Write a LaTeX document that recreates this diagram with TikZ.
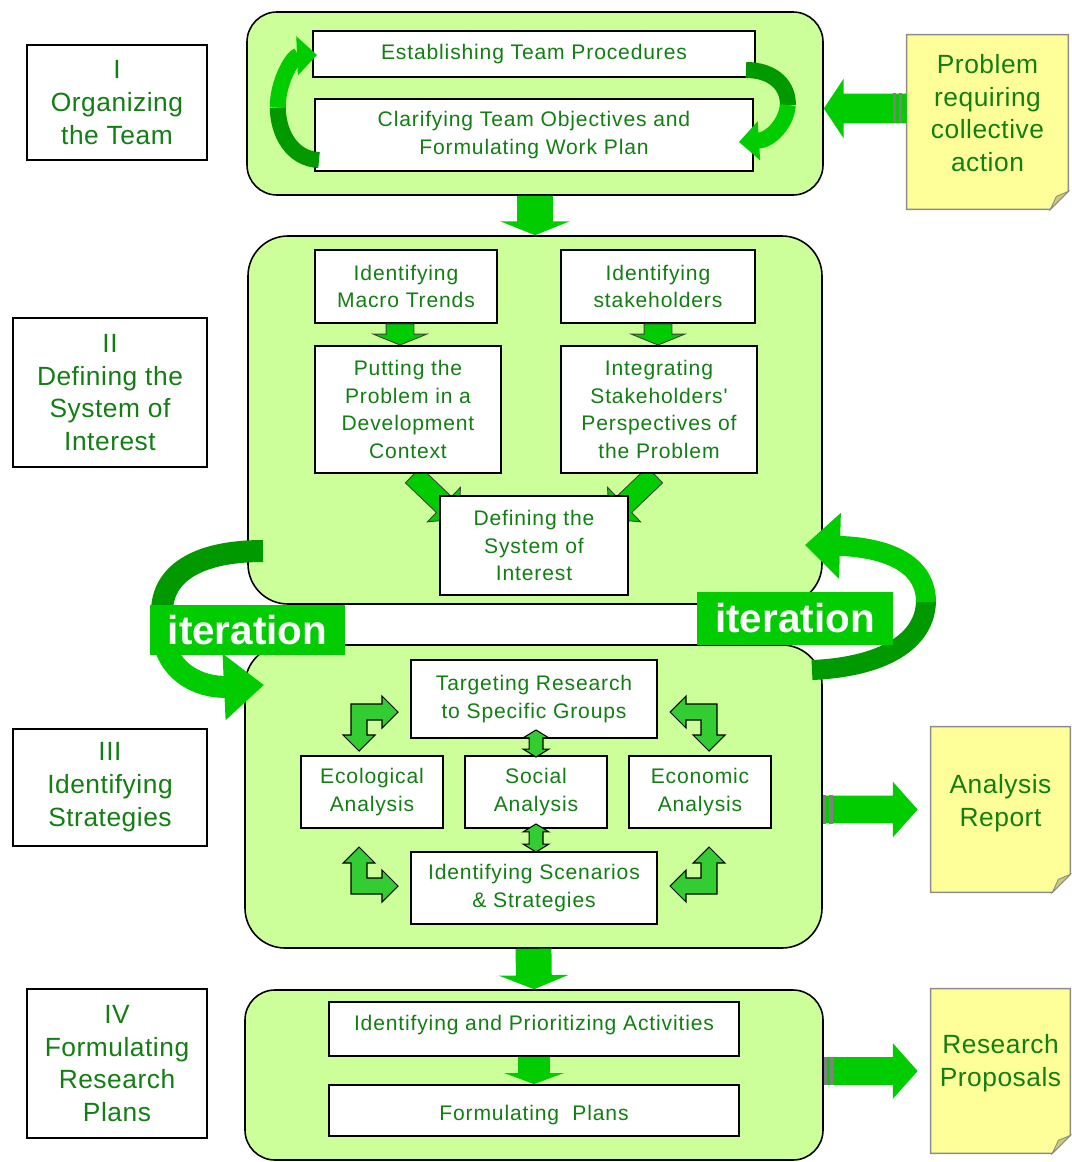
\documentclass[tikz,border=0pt]{standalone}
\usepackage{fontspec}
\newfontfamily\bxf[LetterSpace=4]{Liberation Sans}
\newfontfamily\lbf[LetterSpace=2]{Liberation Sans}
\newfontfamily\itf{Liberation Sans}
\usetikzlibrary{calc,fit,arrows.meta}
\pgfdeclarelayer{back}
\pgfdeclarelayer{mid}
\pgfsetlayers{back,mid,main}
\definecolor{pfill}{HTML}{CCFF99}
\definecolor{agreen}{HTML}{00CC00}
\definecolor{dgreen}{HTML}{009900}
\definecolor{cgreen}{HTML}{33CC33}
\definecolor{tgreen}{HTML}{127F12}
\definecolor{nfill}{HTML}{FFFF99}
\definecolor{nfold}{HTML}{CCCC77}
\definecolor{nline}{HTML}{8C8C8C}

\newcommand\blockarrow[6]{%
  \pgfmathsetlengthmacro\baW{#4*0.5669pt}%
  \pgfmathsetlengthmacro\baH{#5*0.5669pt}%
  \pgfmathsetlengthmacro\baL{#6*0.5669pt}%
  \coordinate (baS) at (#2);
  \coordinate (baE) at (#3);
  \coordinate (baB) at ($(baE)!\baL!(baS)$);
  \path[#1] ($(baS)!\baW!90:(baE)$) -- ($(baB)!\baW!90:(baE)$) -- ($(baB)!\baH!90:(baE)$) -- (baE)
    -- ($(baB)!\baH!-90:(baE)$) -- ($(baB)!\baW!-90:(baE)$) -- ($(baS)!\baW!-90:(baE)$) -- cycle;
}
\newcommand\dblarrow[6]{%
  \pgfmathsetlengthmacro\baW{#4*0.5669pt}%
  \pgfmathsetlengthmacro\baH{#5*0.5669pt}%
  \pgfmathsetlengthmacro\baL{#6*0.5669pt}%
  \coordinate (daS) at (#2);
  \coordinate (daE) at (#3);
  \coordinate (daB) at ($(daE)!\baL!(daS)$);
  \coordinate (daA) at ($(daS)!\baL!(daE)$);
  \path[#1] (daS) -- ($(daA)!\baH!90:(daE)$) -- ($(daA)!\baW!90:(daE)$) -- ($(daB)!\baW!90:(daE)$)
    -- ($(daB)!\baH!90:(daE)$) -- (daE) -- ($(daB)!\baH!-90:(daE)$) -- ($(daB)!\baW!-90:(daE)$)
    -- ($(daA)!\baW!-90:(daE)$) -- ($(daA)!\baH!-90:(daE)$) -- cycle;
}
\newcommand\larrow[1]{%
  \begin{scope}[#1]
    \filldraw[larr] (-8,-8) -- (23,-8) -- (23,-16) -- (39,0) -- (23,16) -- (23,8) -- (8,8)
      -- (8,23) -- (16,23) -- (0,39) -- (-16,23) -- (-8,23) -- cycle;
  \end{scope}}

\tikzset{
  panel/.style={draw=black, fill=pfill, line width=0.9pt, rounded corners=#1, inner sep=0pt},
  panel/.default=0.6cm,
  wbox/.style={draw=black, fill=white, line width=1.1pt, inner sep=0pt},
  btext/.style={inner sep=0pt, align=center, text=tgreen, font=\bxf\fontsize{12}{15.6}\selectfont},
  ltext/.style={inner sep=0pt, align=center, text=tgreen, font=\lbf\fontsize{15}{18.7}\selectfont},
  noteframe/.style={inner sep=0pt},
  notefill/.style={fill=nfill, draw=nline, line width=0.8pt},
  foldfill/.style={fill=nfold, draw=nline, line width=0.5pt},
  notetext/.style={inner sep=0pt, align=center, text=tgreen, font=\lbf\fontsize{15}{18.6}\selectfont},
  bigarr/.style={fill=agreen},
  smallarr/.style={fill=agreen, draw=black!75, line width=0.5pt},
  larr/.style={fill=cgreen, draw=black, line width=0.6pt},
  stripe/.style={fill=gray},
  iterbox/.style={fill=agreen, inner sep=0pt, text=white, font=\itf\bfseries\fontsize{23}{26}\selectfont},
  curvdark/.style={draw=dgreen, line width=#1},
  curvbright/.style={draw=agreen, line width=#1},
}

\begin{document}
\begin{tikzpicture}[x=0.02cm,y=-0.02cm]
\useasboundingbox (0,0) rectangle (1071,1162);

% ---------- panels ----------
\begin{pgfonlayer}{back}
\node[panel, fit={(247,12) (823,195)}] (p1) {};
\node[panel=0.8cm, fit={(248,236) (822,604)}] (p2) {};
\node[panel=0.8cm, fit={(245,645) (822,948)}] (p3) {};
\node[panel, fit={(245,990) (823,1160)}] (p4) {};
\end{pgfonlayer}

% ---------- left labels ----------
\node[wbox, fit={(27,45) (207,160)}] (l1) {};
\node[ltext] (l1t) at (l1.center) {I\\Organizing\\the Team};
\node[wbox, fit={(13,318) (207,467)}] (l2) {};
\node[ltext] (l2t) at (l2.center) {II\\Defining the\\System of\\Interest};
\node[wbox, fit={(13,729) (207,846)}] (l3) {};
\node[ltext] (l3t) at (l3.center) {III\\Identifying\\Strategies};
\node[wbox, fit={(27,989) (207,1138)}] (l4) {};
\node[ltext] (l4t) at (l4.center) {IV\\Formulating\\Research\\Plans};

% ---------- boxes ----------
\node[wbox, fit={(313,31) (755,77)}] (e1) {};
\node[btext] (e1t) at (e1.center) {Establishing Team Procedures};
\node[wbox, fit={(315,99) (753,171)}] (c1) {};
\node[btext] (c1t) at (c1.center) {Clarifying Team Objectives and\\Formulating Work Plan};

\node[wbox, fit={(315,250) (497,323)}] (m1) {};
\node[btext] (m1t) at (m1.center) {Identifying\\Macro Trends};
\node[wbox, fit={(561,250) (755,323)}] (s1) {};
\node[btext] (s1t) at (s1.center) {Identifying\\stakeholders};
\node[wbox, fit={(315,346) (501,473)}] (pp) {};
\node[btext] (ppt) at (pp.center) {Putting the\\Problem in a\\Development\\Context};
\node[wbox, fit={(561,346) (757,473)}] (ip) {};
\node[btext] (ipt) at (ip.center) {Integrating\\Stakeholders'\\Perspectives of\\the Problem};
\node[wbox, fit={(440,496) (628,595)}] (ds) {};
\node[btext] (dst) at (ds.center) {Defining the\\System of\\Interest};

\node[wbox, fit={(411,660) (657,738)}] (tr) {};
\node[btext] (trt) at (tr.center) {Targeting Research\\to Specific Groups};
\node[wbox, fit={(301,756) (443,828)}] (ea) {};
\node[btext] (eat) at (ea.center) {Ecological\\Analysis};
\node[wbox, fit={(465,756) (607,828)}] (sa) {};
\node[btext] (sat) at (sa.center) {Social\\Analysis};
\node[wbox, fit={(629,756) (771,828)}] (ec) {};
\node[btext] (ect) at (ec.center) {Economic\\Analysis};
\node[wbox, fit={(411,852) (657,924)}] (is) {};
\node[btext] (ist) at (is.center) {Identifying Scenarios\\\& Strategies};

\node[wbox, fit={(329,1002) (739,1056)}] (ia) {};
\node[btext] (iat) at ($(ia.center)+(0,-4)$) {Identifying and Prioritizing Activities};
\node[wbox, fit={(329,1085) (739,1136)}] (fp) {};
\node[btext] (fpt) at ($(fp.center)+(0,5)$) {Formulating~ Plans};

% ---------- notes ----------
\node[noteframe, fit={(907,35) (1068,209)}] (n1) {};
\filldraw[notefill] (n1.north west) -- (n1.north east) -- ($(n1.south east)+(0,-18)$) -- ($(n1.south east)+(-18,0)$) -- (n1.south west) -- cycle;
\filldraw[foldfill] ($(n1.south east)+(0,-18)$) -- ($(n1.south east)+(-18,0)$) -- ($(n1.south east)+(-12,-13)$) -- cycle;
\node[notetext] (n1t) at ($(n1.center)+(0,-9)$) {Problem\\requiring\\collective\\action};

\node[noteframe, fit={(931,727) (1070,892)}] (n2) {};
\filldraw[notefill] (n2.north west) -- (n2.north east) -- ($(n2.south east)+(0,-18)$) -- ($(n2.south east)+(-18,0)$) -- (n2.south west) -- cycle;
\filldraw[foldfill] ($(n2.south east)+(0,-18)$) -- ($(n2.south east)+(-18,0)$) -- ($(n2.south east)+(-12,-13)$) -- cycle;
\node[notetext] (n2t) at ($(n2.center)+(0,-6)$) {Analysis\\Report};

\node[noteframe, fit={(931,989) (1070,1153)}] (n3) {};
\filldraw[notefill] (n3.north west) -- (n3.north east) -- ($(n3.south east)+(0,-18)$) -- ($(n3.south east)+(-18,0)$) -- (n3.south west) -- cycle;
\filldraw[foldfill] ($(n3.south east)+(0,-18)$) -- ($(n3.south east)+(-18,0)$) -- ($(n3.south east)+(-12,-13)$) -- cycle;
\node[notetext] (n3t) at ($(n3.center)+(0,-8)$) {Research\\Proposals};

% ---------- big block arrows ----------
\blockarrow{bigarr}{$(n1.west |- p1.east)+(0,5)$}{$(p1.east)+(0,5)$}{15}{30}{20}
\fill[stripe] (893,93) rectangle (896,123);
\fill[stripe] (899,93) rectangle (902,123);

\blockarrow{bigarr}{p1.south}{p2.north}{18}{35}{14}
\blockarrow{bigarr}{p3.south}{p4.north}{18}{35}{14}
\blockarrow{bigarr}{ia.south}{fp.north}{16}{30}{11}

\blockarrow{bigarr}{p3.east |- n2.west}{$(n2.west)+(-13,0)$}{14}{28}{25}
\fill[stripe] (823,795) rectangle (826,824);
\fill[stripe] (829,795) rectangle (833,824);
\blockarrow{bigarr}{p4.east |- n3.west}{$(n3.west)+(-13,0)$}{14}{28}{25}
\fill[stripe] (824,1057) rectangle (827,1085);
\fill[stripe] (830,1057) rectangle (834,1085);

% ---------- panel 2 arrows ----------
\blockarrow{smallarr}{$(m1.south)+(-6,0)$}{$(m1.south |- pp.north)+(-6,0)$}{14}{27}{11}
\blockarrow{smallarr}{s1.south}{s1.south |- ip.north}{14}{27}{11}
\begin{pgfonlayer}{mid}
\blockarrow{smallarr}{$(pp.south)+(5,1)$}{$(ds.north west)+(20,24)$}{11}{24}{21}
\blockarrow{smallarr}{$(ip.south)+(-4,1)$}{$(ds.north east)+(-20,24)$}{11}{24}{21}
\end{pgfonlayer}

% ---------- panel 3 arrows ----------
\dblarrow{larr}{$(sa.north |- tr.south)+(0,-9)$}{$(sa.north)+(0,2)$}{7}{13}{8}
\dblarrow{larr}{$(sa.south)+(0,-5)$}{$(sa.south |- is.north)+(0,1)$}{7}{13}{8}
\larrow{shift={(359,712)}}
\larrow{shift={(709,712)}, xscale=-1}
\larrow{shift={(359,886)}, yscale=-1}
\larrow{shift={(709,886)}, xscale=-1, yscale=-1}

% ---------- panel 1 curved arrows ----------
\coordinate (ca1) at ($(c1.west)+(5,25)$);
\coordinate (ca2) at ($(e1.west)+(5,1)$);
\draw[curvdark=0.32cm] (ca1) .. controls (292,159) and (278,133.25) .. (277.75,107.5);
\draw[curvbright=0.32cm, -{Triangle[width=0.76cm,length=0.4cm]}] (277.75,107.5) .. controls (277.5,81.75) and (293,56) .. (ca2);
\coordinate (cb1) at ($(e1.east)+(-10,16)$);
\coordinate (cb2) at ($(c1.east)+(-15,7)$);
\draw[curvdark=0.32cm] (cb1) .. controls (775,70) and (788.75,87.5) .. (787.75,105);
\draw[curvbright=0.32cm, -{Triangle[width=0.76cm,length=0.4cm]}] (787.75,105) .. controls (786.75,122.5) and (771,140) .. (cb2);

% ---------- iteration arrows ----------
\begin{pgfonlayer}{mid}
\coordinate (it1s) at (263,551);
\coordinate (it1e) at (264,685);
\draw[curvdark=0.44cm] (it1s) .. controls (195,551) and (162,575) .. (162,612);
\draw[curvbright=0.44cm, -{Triangle[width=1.28cm,length=0.8cm]}] (162,610) -- (162,625) .. controls (162,672) and (200,688) .. (it1e);
\node[iterbox, minimum width=3.9cm, minimum height=1cm] (it1) at (247.5,630) {iteration};

\coordinate (it2s) at (812,670);
\coordinate (it2e) at (805,545);
\draw[curvdark=0.4cm] (it2s) .. controls (882,667) and (926,642) .. (926,600);
\draw[curvbright=0.4cm, -{Triangle[width=1.28cm,length=0.7cm]}] (926,602) .. controls (926,560) and (880,547) .. (it2e);
\node[iterbox, minimum width=3.92cm, minimum height=1.06cm] (it2) at (795,618.5) {iteration};
\end{pgfonlayer}
\end{tikzpicture}
\end{document}
